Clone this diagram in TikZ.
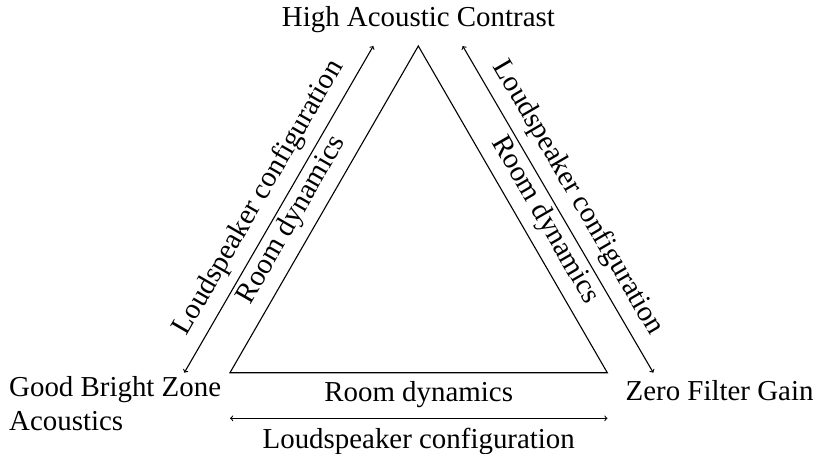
\documentclass[tikz,border=0pt]{standalone}
\usepackage{fontspec}
\setmainfont{Liberation Serif}
\begin{document}
\begin{tikzpicture}[x=1pt,y=-1pt,
  every node/.style={font=\fontsize{28.9}{34.3}\selectfont, inner sep=9pt},
  edge/.style={line width=1.1pt, line join=miter},
  conn/.style={line width=1.1pt, <->}]
\useasboundingbox (0,0) rectangle (819,453);
% triangle
\coordinate (A) at (418.3,46);
\coordinate (B) at (230,372.7);
\coordinate (C) at (607.3,372.7);
\draw[edge] (A) -- (B) -- (C) -- cycle;
\path (B) -- node[pos=0.432, sloped, above] (rdl) {Room dynamics} (A);
\path (A) -- node[pos=0.568, sloped, above] (rdr) {Room dynamics} (C);
\path (B) -- node[below] (rdb) {Room dynamics} (C);
% arrows
\coordinate (L1) at (184.3,372.7);
\coordinate (L2) at (373.3,46);
\coordinate (R1) at (462.7,46);
\coordinate (R2) at (653.3,372.7);
\coordinate (D1) at (230,418.3);
\coordinate (D2) at (607.5,418.3);
\draw[conn] (L1) -- node[sloped, above] (lcl) {Loudspeaker configuration} (L2);
\draw[conn] (R1) -- node[sloped, above] (lcr) {Loudspeaker configuration} (R2);
\draw[conn] (D1) -- node[below] (lcb) {Loudspeaker configuration} (D2);
% vertex labels
\node[anchor=base] (hac) at (418.4,26.7) {High Acoustic Contrast};
\node[anchor=north west, align=left] (gbz) at (0,367) {Good Bright Zone\\Acoustics};
\node[anchor=base west] (zfg) at (616.5,400.7) {Zero Filter Gain};
\end{tikzpicture}
\end{document}
